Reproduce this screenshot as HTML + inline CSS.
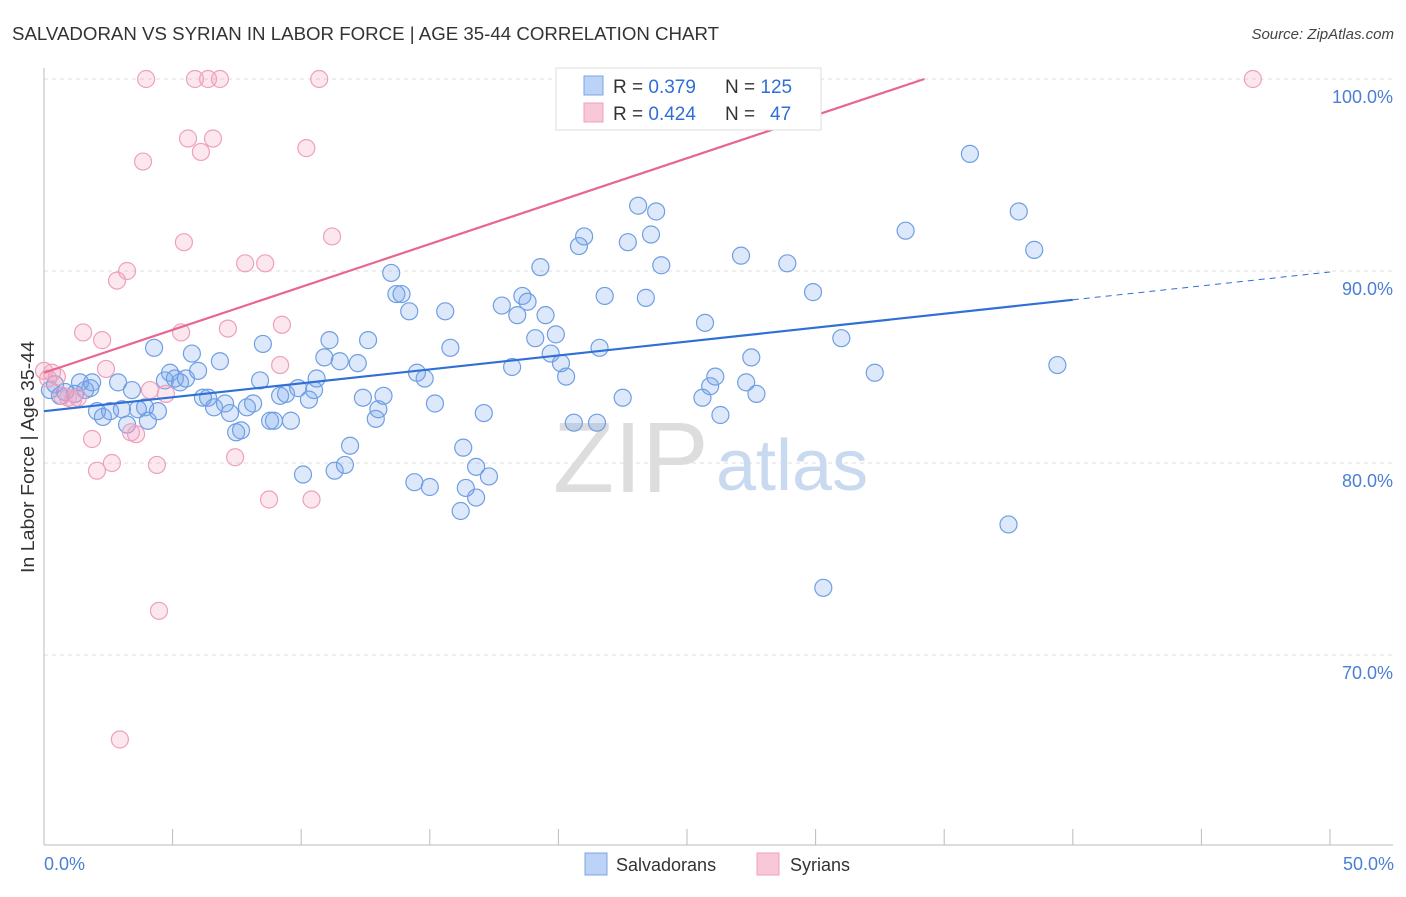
<!DOCTYPE html>
<html><head><meta charset="utf-8"><style>
body{margin:0;background:#fff;font-family:"Liberation Sans",sans-serif;}
svg text{font-family:"Liberation Sans",sans-serif;}
</style></head><body>
<svg id="chart" width="1406" height="892" xmlns="http://www.w3.org/2000/svg">
<text x="12" y="40" font-size="18" fill="#333" textLength="707" lengthAdjust="spacingAndGlyphs">SALVADORAN VS SYRIAN IN LABOR FORCE | AGE 35-44 CORRELATION CHART</text>
<text x="1394" y="39" font-size="15" fill="#444" font-style="italic" text-anchor="end">Source: ZipAtlas.com</text>
<g id="grid"></g>
<g>
<text x="553" y="492" font-size="100" fill="#ddd" font-family="Liberation Serif">ZIP</text>
<text x="716" y="490" font-size="72" fill="#c8d9f0">atlas</text>
</g>
<line x1="44" y1="68" x2="44" y2="845" stroke="#bbb"/>
<line x1="44" y1="845" x2="1393" y2="845" stroke="#bbb"/>
<g id="ticks"></g>
<text transform="translate(34,457) rotate(-90)" font-size="18" fill="#333" text-anchor="middle" textLength="232" lengthAdjust="spacingAndGlyphs">In Labor Force | Age 35-44</text>
<text x="44" y="870" font-size="18" fill="#4a7fd4">0.0%</text>
<text x="1394" y="870" font-size="18" fill="#4a7fd4" text-anchor="end">50.0%</text>
<g id="points"></g>
<g id="trends"></g>
<g>
<rect x="556" y="68" width="265" height="62" fill="#fff" stroke="#ddd"/>
<rect x="584" y="76" width="19" height="19" fill="#bcd3f5" stroke="#7aa6e6"/>
<rect x="584" y="103" width="19" height="19" fill="#f9c8d7" stroke="#eea0bb"/>
<text x="613" y="93" font-size="19" fill="#333">R = <tspan fill="#2f6fd6">0.379</tspan><tspan x="725">N = </tspan><tspan fill="#2f6fd6">125</tspan></text>
<text x="613" y="120" font-size="19" fill="#333">R = <tspan fill="#2f6fd6">0.424</tspan><tspan x="725">N = </tspan><tspan x="770" fill="#2f6fd6">47</tspan></text>
</g>
<g>
<rect x="585" y="853" width="22" height="22" fill="#bcd3f5" stroke="#7aa6e6"/>
<text x="616" y="871" font-size="18" fill="#333">Salvadorans</text>
<rect x="757" y="853" width="22" height="22" fill="#f9c8d7" stroke="#eea0bb"/>
<text x="790" y="871" font-size="18" fill="#333">Syrians</text>
</g>
</svg>
<script>
const yTicks=[100,90,80,70];
const yTickLabels=["100.0%","90.0%","80.0%","70.0%"];
const xTicks=[0,5,10,15,20,25,30,35,40,45,50];
const blueX=[0.23,0.43,0.62,0.82,1.2,1.4,1.6,1.8,1.87,2.06,2.29,2.57,2.88,3.03,3.23,3.42,3.65,3.93,4.04,4.28,4.43,4.7,4.9,5.09,5.29,5.52,5.75,5.99,6.18,6.38,6.61,6.84,7.04,7.23,7.47,7.66,7.89,8.13,8.4,8.51,8.79,8.94,9.18,9.41,9.6,9.88,10.07,10.3,10.5,10.6,10.9,11.1,11.3,11.5,11.7,11.9,12.2,12.4,12.6,12.9,13.0,13.2,13.5,13.7,13.9,14.2,14.5,14.8,14.4,15.0,15.2,15.6,15.8,16.2,16.3,16.4,16.8,16.8,17.1,17.3,17.8,18.2,18.4,18.6,18.8,19.1,19.3,19.5,19.7,19.9,20.1,20.3,20.6,20.8,21.0,21.5,21.6,21.8,22.5,22.7,23.1,23.4,23.6,23.8,24.0,25.6,25.7,25.9,26.1,26.3,27.1,27.3,27.5,27.7,28.9,29.9,30.3,31.0,32.3,33.5,36.0,37.5,37.9,38.5,39.4];
const blueY=[83.8,84.1,83.5,83.7,83.6,84.2,83.8,83.9,84.2,82.7,82.4,82.7,84.2,82.8,82.0,83.8,82.8,82.9,82.2,86.0,82.7,84.3,84.7,84.4,84.2,84.4,85.7,84.8,83.4,83.4,82.9,85.3,83.1,82.6,81.6,81.7,82.9,83.1,84.3,86.2,82.2,82.2,83.5,83.6,82.2,83.9,79.4,83.3,83.8,84.4,85.5,86.4,79.6,85.3,79.9,80.9,85.2,83.4,86.4,82.3,82.8,83.5,89.9,88.8,88.8,87.9,84.7,84.4,79.0,78.75,83.1,87.9,86.0,77.5,80.8,78.7,79.8,78.2,82.6,79.3,88.2,85.0,87.7,88.7,88.4,86.5,90.2,87.7,85.7,86.7,85.2,84.5,82.1,91.3,91.8,82.1,86.0,88.7,83.4,91.5,93.4,88.6,91.9,93.1,90.3,83.4,87.3,84.0,84.5,82.5,90.8,84.2,85.5,83.6,90.4,88.9,73.5,86.5,84.7,92.1,96.1,76.8,93.1,91.1,85.1];
const pinkX=[0,0.16,0.31,0.5,0.7,0.93,1.13,1.32,1.52,1.87,2.06,2.26,2.41,2.64,2.84,2.95,3.23,3.38,3.58,3.85,3.97,4.12,4.39,4.47,4.74,5.33,5.44,5.6,5.87,6.1,6.38,6.57,6.84,7.15,7.43,7.82,8.6,8.75,9.25,9.18,10.2,10.4,10.7,11.2,47.0];
const pinkY=[84.8,84.4,84.7,84.5,83.5,83.4,83.3,83.4,86.8,81.25,79.6,86.4,84.9,80.0,89.5,65.6,90.0,81.6,81.5,95.7,100,83.8,79.9,72.3,83.6,86.8,91.5,96.9,100,96.2,100,96.9,100,87.0,80.3,90.4,90.4,78.1,87.2,85.1,96.4,78.1,100,91.8,100];
const blueTrend=[82.7,0.145]; // intercept, slope
const pinkTrend=[84.7,0.447];
const NS="http://www.w3.org/2000/svg";
const X=v=>44+v*25.72, Y=v=>79+(100-v)*19.2;
function mk(t,a,p){const e=document.createElementNS(NS,t);for(const k in a)e.setAttribute(k,a[k]);p.appendChild(e);return e;}
const grid=document.getElementById('grid');
yTicks.forEach((t,i)=>{
 const l=mk('line',{x1:44,x2:1393,y1:Y(t),y2:Y(t),stroke:'#ddd','stroke-dasharray':'4,4'},grid);
 
 
 const tx=mk('text',{x:1393,y:Y(t)+24,'font-size':18,fill:'#4a7fd4','text-anchor':'end'},grid);
 tx.textContent=yTickLabels[i];
 
 
});
const tk=document.getElementById('ticks');
xTicks.forEach(t=>{
 const l=mk('line',{x1:X(t),x2:X(t),y1:829,y2:845,stroke:'#bbb'},tk);
 
 
});
const pts=document.getElementById('points');
blueX.forEach((x,i)=>{
 const c=mk('circle',{cx:X(x),cy:Y(blueY[i]),r:8.5,fill:'rgba(120,165,235,0.25)',stroke:'#6f9fe3','stroke-width':1.2},pts);
 
 
});
pinkX.forEach((x,i)=>{
 const c=mk('circle',{cx:X(x),cy:Y(pinkY[i]),r:8.5,fill:'rgba(245,160,190,0.25)',stroke:'#eea0bb','stroke-width':1.2},pts);
 
 
});
const tr=document.getElementById('trends');
const bl=mk('line',{x1:X(0),y1:Y(blueTrend[0]),x2:X(40),y2:Y(blueTrend[0]+40*blueTrend[1]),stroke:'#2f6fd6','stroke-width':2.2},tr);


const bd=mk('line',{x1:X(40),y1:Y(blueTrend[0]+40*blueTrend[1]),x2:X(50),y2:Y(blueTrend[0]+50*blueTrend[1]),stroke:'#2f6fd6','stroke-width':1,'stroke-dasharray':'6,5'},tr);


const pxEnd=(100-pinkTrend[0])/pinkTrend[1];
const pl=mk('line',{x1:X(0),y1:Y(pinkTrend[0]),x2:X(pxEnd),y2:Y(100),stroke:'#e8668f','stroke-width':2.2},tr);


</script>
</body></html>
